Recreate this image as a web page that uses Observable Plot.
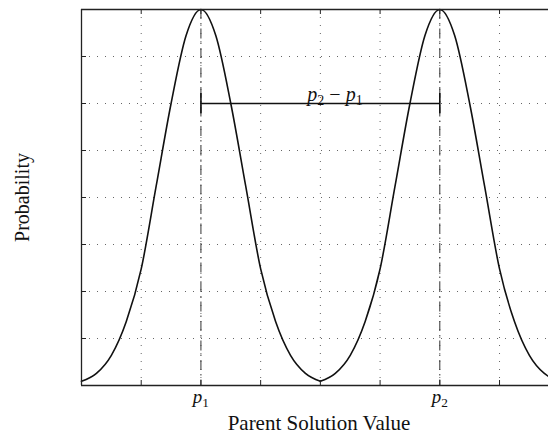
<!DOCTYPE html>
<html>
<head>
<meta charset="utf-8">
<script src="https://cdn.jsdelivr.net/npm/d3@7"></script>
<script src="https://cdn.jsdelivr.net/npm/@observablehq/plot@0.6"></script>
<style>
  body { margin: 0; background: #fff; }
  svg text { white-space: pre; font-family: "Liberation Serif", "DejaVu Serif", serif; }
</style>
</head>
<body>
<div id="chart"></div>
<script>
// Grid positions (x in solution-value units, y as fraction of peak probability)
const xGrid = [1, 2, 3, 4, 5, 6, 7];
const yGrid = [0.125, 0.25, 0.375, 0.5, 0.625, 0.75, 0.875];
const xDomain = [0, 7.82];

// The two parent solutions and their labels
const peaks = [2, 6];
const peakLabels = ["p₁", "p₂"];
const gapLevel = 0.75;
const gapLabel = "p₂ − p₁";

// Probability around the first parent
const leftX = [0, 0.25, 0.5, 0.75, 1, 1.25, 1.5, 1.75, 2, 2.25, 2.5, 2.75, 3, 3.25, 3.5, 3.75, 4];
const leftP = [0.011, 0.032, 0.08, 0.17, 0.31, 0.53, 0.75, 0.93, 1, 0.93, 0.75, 0.53, 0.31, 0.17, 0.08, 0.032, 0.011];

// Probability around the second parent
const rightX = [4, 4.25, 4.5, 4.75, 5, 5.25, 5.5, 5.75, 6, 6.25, 6.5, 6.75, 7, 7.25, 7.5, 7.75, 7.82];
const rightP = [0.011, 0.032, 0.08, 0.17, 0.31, 0.53, 0.75, 0.93, 1, 0.93, 0.75, 0.53, 0.31, 0.17, 0.08, 0.032, 0.024];

const xTitle = "Parent Solution Value";
const yTitle = "Probability";

const leftBump = leftX.map((x, i) => ({x, p: leftP[i]}));
const rightBump = rightX.map((x, i) => ({x, p: rightP[i]}));

const frameColor = "#222";
const serif = "Liberation Serif";

const chart = Plot.plot({
  width: 548,
  height: 435,
  marginLeft: 81,
  marginRight: 0,
  marginTop: 9,
  marginBottom: 50,
  x: {domain: xDomain, axis: null},
  y: {domain: [0, 1], axis: null},
  style: {background: "#fff", color: "#111"},
  marks: [
    // dotted grid
    Plot.gridX(xGrid, {stroke: "#000", strokeOpacity: 0.6, strokeWidth: 1, strokeDasharray: "1,7"}),
    Plot.gridY(yGrid, {stroke: "#000", strokeOpacity: 0.6, strokeWidth: 1, strokeDasharray: "1,7"}),
    // dash-dot markers at the parents
    Plot.ruleX(peaks, {x: d => d, stroke: "#333", strokeWidth: 1, strokeDasharray: "10,4,1.5,4"}),
    // probability curve, one bump per parent meeting at a cusp
    Plot.line(leftBump, {x: "x", y: "p", curve: "monotone-x", stroke: "#111", strokeWidth: 1.6}),
    Plot.line(rightBump, {x: "x", y: "p", curve: "monotone-x", stroke: "#111", strokeWidth: 1.6}),
    // distance bar between parents
    Plot.ruleY([gapLevel], {y: d => d, x1: peaks[0], x2: peaks[1], stroke: "#111", strokeWidth: 1.6}),
    Plot.ruleX(peaks, {x: d => d, y1: gapLevel, y2: gapLevel, insetTop: -10, insetBottom: -10, stroke: "#111", strokeWidth: 1.6}),
    Plot.text([gapLabel], {x: (peaks[0] + peaks[1]) / 2, y: gapLevel, text: d => d, textAnchor: "start", dx: -13, dy: -9, fontSize: 20, fontFamily: serif, fill: "#111"}),
    // frame (left, bottom, top)
    Plot.ruleX([xDomain[0]], {stroke: frameColor, strokeWidth: 1.3}),
    Plot.ruleY([0, 1], {stroke: frameColor, strokeWidth: 1.3}),
    // inward tick marks
    Plot.ruleX(xGrid, {x: d => d, y1: 0, y2: 0, insetTop: -5, stroke: frameColor, strokeWidth: 1}),
    Plot.ruleX(xGrid, {x: d => d, y1: 1, y2: 1, insetBottom: -5, stroke: frameColor, strokeWidth: 1}),
    Plot.ruleY(yGrid, {y: d => d, x1: xDomain[0], x2: xDomain[0], insetRight: -5, stroke: frameColor, strokeWidth: 1}),
    // tick labels at the parents
    Plot.text(peaks, {x: d => d, y: 0, text: (d, i) => peakLabels[i], dy: 11, fontSize: 19, fontFamily: serif, fill: "#111"}),
    // axis titles
    Plot.text([xTitle], {frameAnchor: "bottom", text: d => d, dx: 4, dy: 44, fontSize: 21, fontFamily: serif, fill: "#111"}),
    Plot.text([yTitle], {frameAnchor: "left", textAnchor: "middle", text: d => d, rotate: -90, dx: -59, fontSize: 20, fontFamily: serif, fill: "#111"})
  ]
});

document.getElementById("chart").appendChild(chart);

// Render math labels: italic letters, upright lowered subscript digits
const subDigits = {"₀": "0", "₁": "1", "₂": "2", "₃": "3"};
const ns = "http://www.w3.org/2000/svg";
chart.querySelectorAll("text").forEach(t => {
  const s = t.textContent;
  if (!/[₀-₉]/.test(s)) return;
  const fs = parseFloat(getComputedStyle(t).fontSize) || 19;
  const shift = fs * 0.22;
  t.textContent = "";
  let lowered = false;
  for (const ch of s) {
    const ts = document.createElementNS(ns, "tspan");
    if (subDigits[ch]) {
      ts.textContent = subDigits[ch];
      ts.setAttribute("font-size", (fs * 0.7).toFixed(1));
      if (!lowered) { ts.setAttribute("dy", shift); lowered = true; }
    } else {
      ts.textContent = ch;
      if (/[a-z]/i.test(ch)) ts.setAttribute("font-style", "italic");
      if (lowered) { ts.setAttribute("dy", -shift); lowered = false; }
    }
    t.appendChild(ts);
  }
});
</script>
</body>
</html>
